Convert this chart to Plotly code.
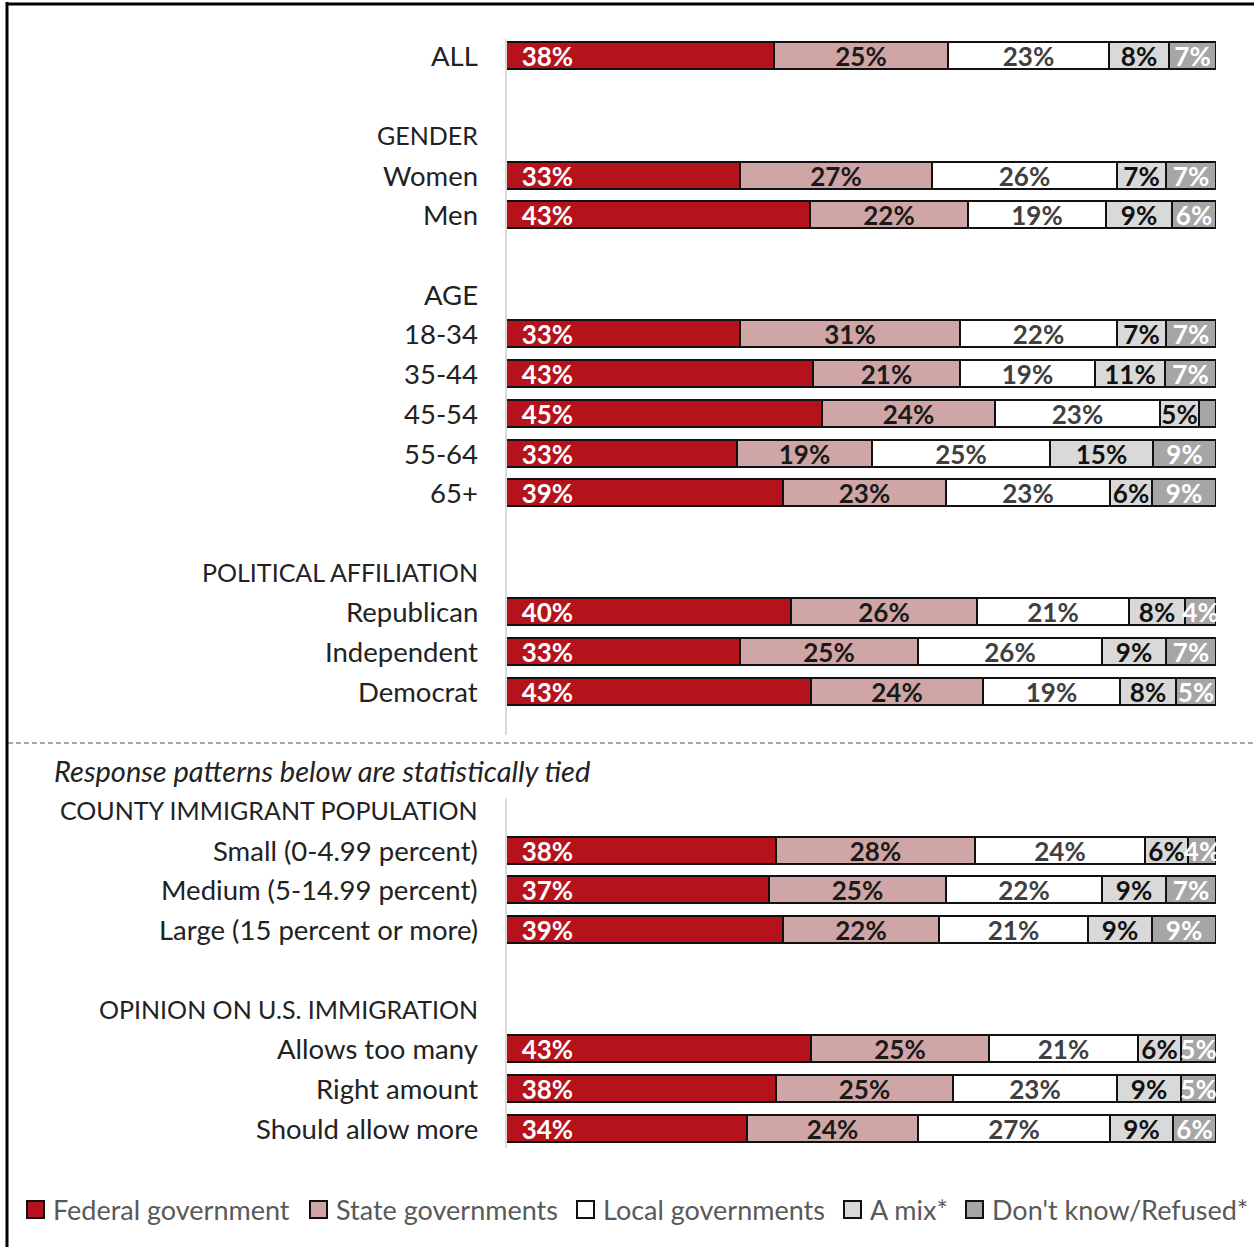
import plotly.graph_objects as go

# ---- data ----
row_labels = ["ALL", "", "GENDER", "Women", "Men", "", "AGE", "18-34", "35-44", "45-54", "55-64", "65+", "",
              "POLITICAL AFFILIATION", "Republican", "Independent", "Democrat", "",
              "Response patterns below are statistically tied",
              "COUNTY IMMIGRANT POPULATION", "Small (0-4.99 percent)", "Medium (5-14.99 percent)",
              "Large (15 percent or more)", "", "OPINION ON U.S. IMMIGRATION", "Allows too many",
              "Right amount", "Should allow more"]
header_rows = [0, 2, 6, 13, 19, 24]
italic_row = 18
bar_rows = [0, 3, 4, 7, 8, 9, 10, 11, 14, 15, 16, 20, 21, 22, 25, 26, 27]

# segment lengths (unrounded where visible)
federal = [37.7, 33, 42.8, 33, 43.2, 44.5, 32.5, 39, 40.1, 33, 43.0, 38, 37, 39, 43, 38, 34]
state   = [24.5, 27, 22.3, 31, 20.7, 24.4, 19.0, 23, 26.3, 25, 24.2, 28, 25, 22, 25, 25, 24]
local   = [22.7, 26, 19.4, 22, 19.0, 23.2, 25.1, 23, 21.3, 26, 19.3, 24, 22, 21, 21, 23, 27]
mix     = [8.5, 7, 9.3, 7, 9.9, 5.5, 14.5, 6, 7.9, 9, 7.9, 6, 9, 9, 6, 9, 9]
dk      = [6.6, 7, 6.2, 7, 7.2, 2.4, 8.9, 9, 4.4, 7, 5.6, 4, 7, 9, 5, 5, 6]

# printed labels
federal_lbl = ["38%", "33%", "43%", "33%", "43%", "45%", "33%", "39%", "40%", "33%", "43%", "38%", "37%", "39%", "43%", "38%", "34%"]
state_lbl   = ["25%", "27%", "22%", "31%", "21%", "24%", "19%", "23%", "26%", "25%", "24%", "28%", "25%", "22%", "25%", "25%", "24%"]
local_lbl   = ["23%", "26%", "19%", "22%", "19%", "23%", "25%", "23%", "21%", "26%", "19%", "24%", "22%", "21%", "21%", "23%", "27%"]
mix_lbl     = ["8%", "7%", "9%", "7%", "11%", "5%", "15%", "6%", "8%", "9%", "8%", "6%", "9%", "9%", "6%", "9%", "9%"]
dk_lbl      = ["7%", "7%", "6%", "7%", "7%", "", "9%", "9%", "4%", "7%", "5%", "4%", "7%", "9%", "5%", "5%", "6%"]

series_names = ["Federal government", "State governments", "Local governments", "A mix*", "Don't know/Refused*"]

colors = ["#B5121B", "#D0A5A6", "#FFFFFF", "#D9D9D9", "#A6A6A6"]
text_colors = ["white", "#1a1a1a", "#404040", "#111111", "white"]
anchors = ["start", "middle", "middle", "middle", "middle"]
values = [federal, state, local, mix, dk]
texts = [["\u00a0\u00a0" + t for t in federal_lbl], state_lbl, local_lbl, mix_lbl, dk_lbl]

# page geometry helpers (plot area spans x 506..1216, y 36..1148 px)
PL, PR, PT, PB = 506, 1216, 36, 1148
def fx(px):
    return (px - PL) / (PR - PL)
def fy(py):
    return (PB - py) / (PB - PT)

fig = go.Figure()
for name, vals, color, tcolor, anchor, txt in zip(series_names, values, colors, text_colors, anchors, texts):
    fig.add_trace(go.Bar(
        y=bar_rows, x=vals, name=name, orientation="h",
        marker=dict(color=color, line=dict(color="#111111", width=2)),
        width=0.68,
        text=txt, textposition="inside", insidetextanchor=anchor,
        constraintext="none",
        textfont=dict(family="Lato, sans-serif", size=26, color=tcolor, weight="bold"),
        hoverinfo="skip", showlegend=False,
    ))

annotations = []
for i, lab in enumerate(row_labels):
    if not lab:
        continue
    if i == italic_row:
        annotations.append(dict(x=fx(52), xref="paper", y=i, yref="y", text=lab, showarrow=False,
                                xanchor="left",
                                font=dict(family="Lato, sans-serif", size=29, color="#222222", style="italic")))
    else:
        size = 25 if (i in header_rows and lab.isupper() and len(lab) > 4) else 27.5
        annotations.append(dict(x=fx(480), xref="paper", y=i, yref="y", text=lab, showarrow=False,
                                xanchor="right",
                                font=dict(family="Lato, sans-serif", size=size, color="#222222")))

shapes = [
    dict(type="line", xref="paper", yref="y", x0=0, x1=0, y0=-0.42, y1=17.1,
         line=dict(color="#D9D9D9", width=2)),
    dict(type="line", xref="paper", yref="y", x0=0, x1=0, y0=18.7, y1=27.55,
         line=dict(color="#D9D9D9", width=2)),
    dict(type="line", xref="paper", yref="paper", x0=fx(8), x1=fx(1256), y0=fy(743), y1=fy(743),
         line=dict(color="#A6A6A6", width=2, dash="5px,3px")),
    dict(type="line", xref="paper", yref="paper", x0=fx(7), x1=fx(7), y0=fy(1260), y1=fy(2),
         line=dict(color="black", width=3)),
    dict(type="line", xref="paper", yref="paper", x0=fx(6), x1=fx(1260), y0=fy(4), y1=fy(4),
         line=dict(color="black", width=3)),
]

# legend (single row at the bottom)
leg_sq = [27, 310, 577, 844, 966]
for name, color, sx in zip(series_names, colors, leg_sq):
    shapes.append(dict(type="rect", xref="paper", yref="paper", x0=fx(sx), x1=fx(sx + 17),
                       y0=fy(1218), y1=fy(1201), fillcolor=color,
                       line=dict(color="#111111", width=2)))
    annotations.append(dict(x=fx(sx + 24), xref="paper", y=fy(1209.5), yref="paper", text=name,
                            showarrow=False, xanchor="left", yanchor="middle",
                            font=dict(family="Lato, sans-serif", size=27, color="#595959")))

fig.update_layout(
    width=1254, height=1247,
    barmode="stack", bargap=0,
    plot_bgcolor="white", paper_bgcolor="white",
    margin=dict(l=PL, r=1254 - PR, t=PT, b=1247 - PB),
    xaxis=dict(range=[0, 100], visible=False, fixedrange=True),
    yaxis=dict(range=[27.5, -0.5], visible=False, fixedrange=True),
    showlegend=False,
    annotations=annotations,
    shapes=shapes,
)
fig.write_html("out.html", config={"displayModeBar": False},
               post_script="document.body.style.margin='0';")
